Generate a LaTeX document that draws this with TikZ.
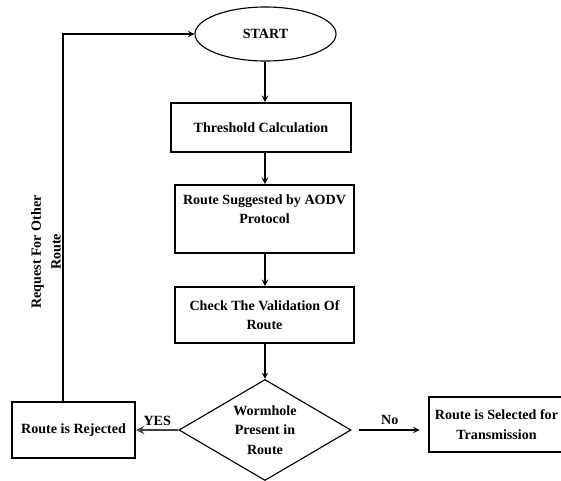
\documentclass[tikz,border=0pt]{standalone}
\usepackage{fontspec}
\setmainfont{Liberation Serif}
\usepackage{tikz}
\usetikzlibrary{arrows,shapes}

\tikzset{
  txt/.style={font=\fontsize{10}{14}\selectfont\bfseries, align=center},
  box/.style={txt, draw, line width=1.4pt, rectangle, inner sep=0pt},
  flow/.style={line width=1pt, -stealth},
}

\begin{document}
\begin{tikzpicture}[x=0.025cm,y=-0.025cm]

    \useasboundingbox (0,0) rectangle (561,481);

    \node[txt, draw, line width=0.8pt, ellipse, inner sep=0pt,
          minimum width=3.525cm, minimum height=1.35cm] (start) at (265.5,34) {START};
    \node[box, minimum width=4.5cm, minimum height=1.225cm] (thresh) at (261,127.5) {Threshold Calculation};
    \node[box, minimum width=4.475cm, minimum height=1.7cm] (suggest) at (264.5,219)
          {Route Suggested by AODV\\Protocol\\\mbox{}};
    \node[box, minimum width=4.475cm, minimum height=1.4cm] (check) at (264.5,315)
          {Check The Validation Of\\Route};
    \node[txt, draw, line width=0.8pt, diamond, aspect=1.7, inner sep=0pt,
          minimum width=4.3cm, minimum height=2.525cm] (worm) at (265,430)
          {Wormhole\\Present in\\Route};
    \node[box, minimum width=3.075cm, minimum height=1.4cm] (reject) at (73.5,430) {Route is Rejected};
    \node[box, minimum width=3.375cm, minimum height=1.375cm] (select) at (496.5,424.5)
          {Route is Selected for\\Transmission};

    % main line
    \draw[flow] (265,0 |- start.south) -- (265,0 |- thresh.north);
    \draw[flow] (265,0 |- thresh.south) -- (265,0 |- suggest.north);
    \draw[flow] (265,0 |- suggest.south) -- (265,0 |- check.north);
    \draw[flow] (265,0 |- check.south) -- (worm.north);

    % decision
    \draw[flow, line width=1.6pt, draw=black!75] (worm.west) -- node[txt, above, yshift=-1pt]{YES} (worm.west -| reject.east);
    \draw[flow, shorten <=5pt, shorten >=6pt] (worm.east) -- node[txt, above]{No} (worm.east -| select.west);

    % feedback
    \coordinate (turn) at (63,34);
    \draw[flow] (turn |- reject.north) -- (turn) -- (start.west);
    \node[txt, rotate=90] (req) at (46,252) {Request For Other\\Route};

\end{tikzpicture}
\end{document}
